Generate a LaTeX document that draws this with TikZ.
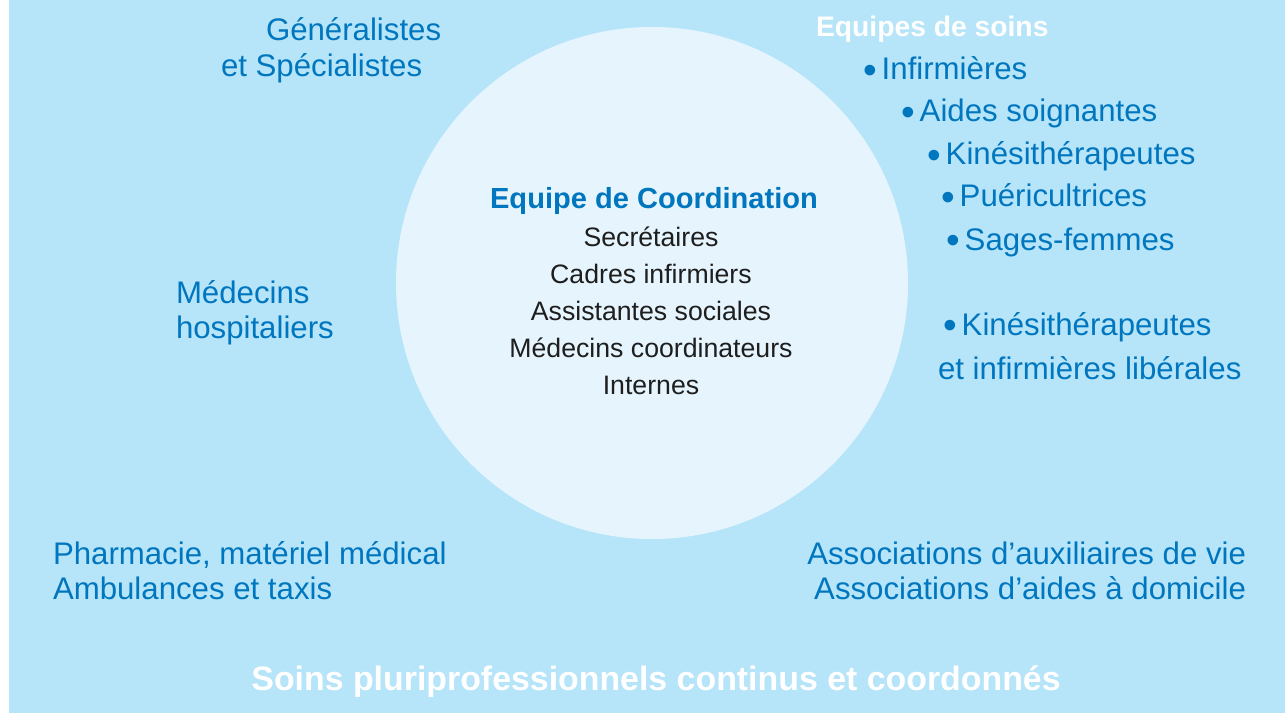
\documentclass[tikz,border=0pt]{standalone}
\usepackage{fontspec}
\usepackage{graphicx}
\setmainfont{Liberation Sans}
\definecolor{bgblue}{RGB}{182,228,249}
\definecolor{circblue}{RGB}{230,245,253}
\definecolor{txtblue}{RGB}{0,118,190}
\definecolor{txtdark}{RGB}{30,30,30}
\newcommand{\puce}{\raisebox{-2.8pt}{\scalebox{1.25}{\textbullet}}\hspace{3.8pt}}
\begin{document}
\begin{tikzpicture}[x=0.75pt, y=-0.75pt,
    every node/.style={inner sep=0pt, outer sep=0pt},
    outer/.style={text=txtblue, font=\fontsize{23.4}{28}\selectfont},
    inner/.style={text=txtdark, font=\fontsize{20}{24}\selectfont},
    head/.style={text=txtblue, font=\bfseries\fontsize{21.8}{26}\selectfont},
    whitehead/.style={text=white, font=\bfseries\fontsize{21.2}{25}\selectfont},
    title/.style={text=white, font=\bfseries\fontsize{25.4}{30}\selectfont}]
	\useasboundingbox (0,0) rectangle (1285,713);
	\fill[white] (0,0) rectangle (9,713);
	\fill[bgblue] (9,0) rectangle (1285,713);
	\node (coord) at (652,283) [circle, fill=circblue, minimum size=384pt] {};
	
	% equipe de coordination
	\node (chef) at (654,209) [head, anchor=base] {Equipe de Coordination};
	\node (secr) at (651,246) [inner, anchor=base] {Secrétaires};
	\node (cadr) at (651,283) [inner, anchor=base] {Cadres infirmiers};
	\node (asso) at (651,320) [inner, anchor=base] {Assistantes sociales};
	\node (medc) at (651,357) [inner, anchor=base] {Médecins coordinateurs};
	\node (inte) at (651,394) [inner, anchor=base] {Internes};
	
	% a gauche
	\node (gen1) at (266,41) [outer, anchor=base west] {Généralistes};
	\node (gen2) at (221,77) [outer, anchor=base west] {et Spécialistes};
	\node (hos1) at (176,303) [outer, anchor=base west] {Médecins};
	\node (hos2) at (176,338) [outer, anchor=base west] {hospitaliers};
	\node (pha1) at (53,564) [outer, anchor=base west] {Pharmacie, matériel médical};
	\node (pha2) at (53,599) [outer, anchor=base west] {Ambulances et taxis};
	
	% a droite
	\node (soin) at (816,37) [whitehead, anchor=base west] {Equipes de soins};
	\node (infi) at (863,80) [outer, anchor=base west] {\puce Infirmières};
	\node (aide) at (901,122) [outer, anchor=base west] {\puce Aides soignantes};
	\node (kine) at (927,165) [outer, anchor=base west] {\puce Kinésithérapeutes};
	\node (puer) at (941,207) [outer, anchor=base west] {\puce Puéricultrices};
	\node (sage) at (946,250) [outer, anchor=base west] {\puce Sages-femmes};
	\node (lib1) at (943,335) [outer, anchor=base west] {\puce Kinésithérapeutes};
	\node (lib2) at (938,379) [outer, anchor=base west] {et infirmières libérales};
	\node (aux1) at (1246,564) [outer, anchor=base east] {Associations d’auxiliaires de vie};
	\node (aux2) at (1246,599) [outer, anchor=base east] {Associations d’aides à domicile};
	
	\node (bas) at (656,690) [title, anchor=base] {Soins pluriprofessionnels continus et coordonnés};
\end{tikzpicture}
\end{document}
